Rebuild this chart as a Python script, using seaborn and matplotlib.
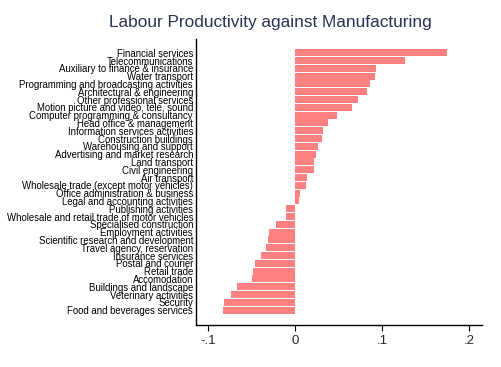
import matplotlib
matplotlib.use("Agg")
import matplotlib.pyplot as plt
import seaborn as sns
import pandas as pd

industries = [
    "Financial services", "Telecommunications", "Auxiliary to finance & insurance",
    "Water transport", "Programming and broadcasting activities",
    "Architectural & engineering", "Other professional services",
    "Motion picture and video, tele, sound", "Computer programming & consultancy",
    "Head office & management", "Information services activities",
    "Construction buildings", "Warehousing and support",
    "Advertising and market research", "Land transport", "Civil engineering",
    "Air transport", "Wholesale trade (except motor vehicles)",
    "Office administration & business", "Legal and accounting activities",
    "Publishing activities", "Wholesale and retail trade of motor vehicles",
    "Specialised construction", "Employment activities",
    "Scientific research and development", "Travel agency, reservation",
    "Insurance services", "Postal and courier", "Retail trade", "Accomodation",
    "Buildings and landscape", "Veterinary activities", "Security",
    "Food and beverages services",
]
productivity = [
    0.175, 0.126, 0.093, 0.092, 0.086, 0.083, 0.072, 0.065, 0.048, 0.038,
    0.032, 0.031, 0.027, 0.024, 0.0215, 0.0215, 0.0134, 0.0123, 0.0054, 0.0046,
    -0.0103, -0.0103, -0.022, -0.030, -0.031, -0.0333, -0.039, -0.046, -0.048,
    -0.0494, -0.0667, -0.0736, -0.0816, -0.0828,
]
xticks = [-0.1, 0, 0.1, 0.2]
xtick_labels = ["-.1", "0", ".1", ".2"]

df = pd.DataFrame({"industry": industries, "value": productivity})

sns.set_style("white")
plt.rcParams["font.family"] = ["Liberation Sans", "DejaVu Sans"]

fig = plt.figure(figsize=(5.01, 3.67), dpi=100)
ax = fig.add_axes([0.391, 0.1144, 0.571, 0.778])

sns.barplot(data=df, x="value", y="industry", orient="h", color="#ff8080",
            saturation=1, width=0.9, linewidth=0, ax=ax)

n = len(industries)
ax.set_ylim(n - 1 + 1.9, -1.7)
ax.set_xlim(-0.114, 0.215)
ax.set_xticks(xticks)
ax.set_xticklabels(xtick_labels, fontsize=9.5)
ax.set_xlabel("")
ax.set_ylabel("")
ax.tick_params(axis="y", length=0, pad=2, labelsize=6.95)
ax.tick_params(axis="x", length=4, width=0.8, pad=3, bottom=True, color="black")
for lbl in ax.get_yticklabels():
    lbl.set_color("black")

sns.despine(ax=ax, top=True, right=True)
for s in ["left", "bottom"]:
    ax.spines[s].set_color("black")
    ax.spines[s].set_linewidth(1)

fig.text(0.218, 0.94, "Labour Productivity against Manufacturing", fontsize=12.4,
         color="#2a3452", ha="left", va="center")

fig.savefig("out.png", dpi=100)
